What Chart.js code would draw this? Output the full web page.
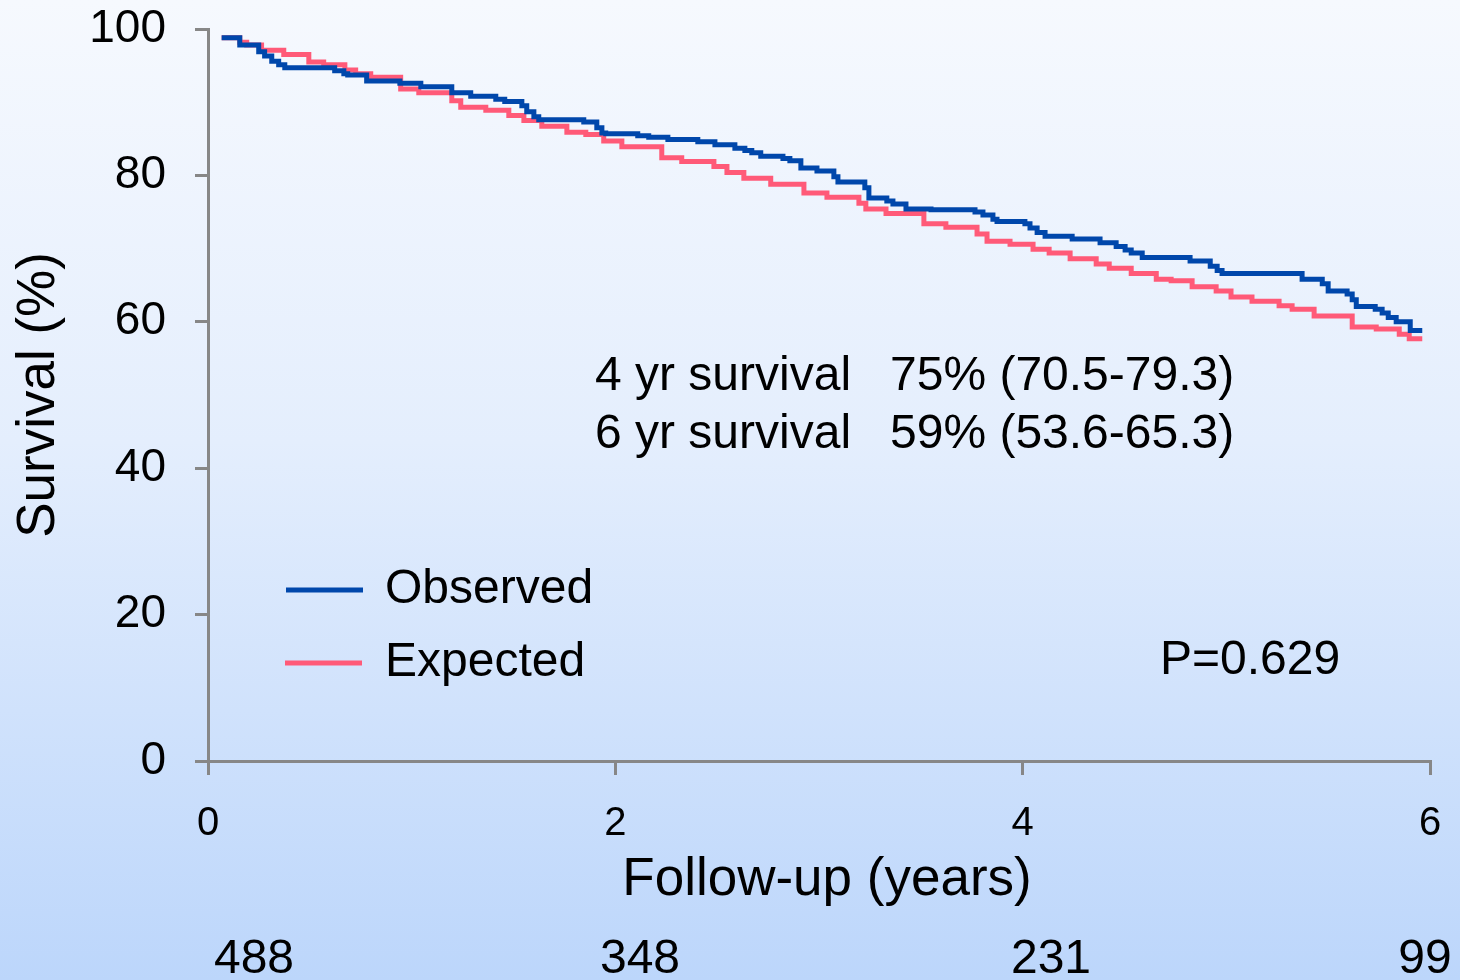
<!DOCTYPE html>
<html>
<head>
<meta charset="utf-8">
<script src="https://cdn.jsdelivr.net/npm/chart.js@4/dist/chart.umd.min.js"></script>
<style>
  html, body { margin: 0; padding: 0; background: #ffffff; }
  #wrap { width: 1460px; height: 980px; }
</style>
</head>
<body>
<div id="wrap"><canvas id="c" width="1460" height="980"></canvas></div>
<script>
// ---- data ----
const obsTimes = [0.067,0.156,0.249,0.278,0.313,0.347,0.377,0.622,0.667,0.686,0.779,0.942,1.045,1.197,1.290,1.413,1.457,1.541,1.565,1.600,1.624,1.845,1.909,1.934,1.953,2.110,2.164,2.258,2.405,2.489,2.587,2.636,2.670,2.714,2.823,2.857,2.911,2.990,3.073,3.093,3.225,3.245,3.333,3.363,3.427,3.550,3.766,3.805,3.854,3.874,4.011,4.036,4.071,4.110,4.243,4.380,4.459,4.503,4.533,4.587,4.822,4.921,4.955,4.979,5.372,5.471,5.500,5.593,5.618,5.638,5.731,5.765,5.795,5.834,5.903,5.962];
const obsSurv  = [98.8,97.8,96.9,96.3,95.6,95.1,94.7,94.3,93.9,93.7,92.9,92.6,92.1,91.3,90.8,90.4,90.1,89.5,88.7,88.0,87.6,87.3,86.5,85.8,85.7,85.4,85.2,84.9,84.6,84.2,83.7,83.4,83.1,82.6,82.3,82.0,81.0,80.6,79.8,79.1,78.3,76.9,76.5,76.1,75.4,75.3,75.0,74.6,74.0,73.7,73.4,72.8,72.2,71.7,71.3,70.8,70.3,69.8,69.4,68.8,68.3,67.6,67.0,66.6,65.8,65.2,64.2,63.8,63.0,62.1,61.7,61.2,60.6,60.0,58.8,58.8];

const expTimes = [0.067,0.156,0.190,0.263,0.372,0.495,0.568,0.672,0.725,0.799,0.946,1.035,1.197,1.241,1.364,1.477,1.551,1.639,1.762,1.855,1.943,2.032,2.228,2.326,2.484,2.548,2.631,2.763,2.926,3.039,3.196,3.230,3.329,3.515,3.623,3.776,3.825,3.938,4.051,4.130,4.233,4.361,4.425,4.533,4.656,4.729,4.832,4.950,5.023,5.126,5.259,5.323,5.431,5.618,5.736,5.849,5.898,5.962];
const expSurv  = [98.8,98.2,97.8,97.1,96.5,95.5,95.1,94.4,93.9,93.4,91.8,91.3,90.2,89.3,88.9,88.2,87.5,86.7,85.9,85.6,84.7,83.9,82.4,81.9,81.2,80.4,79.6,78.8,77.6,77.0,76.2,75.4,74.8,73.4,72.9,72.0,71.0,70.6,69.9,69.4,68.6,67.9,67.3,66.6,65.8,65.6,64.8,64.2,63.4,62.8,62.2,61.7,60.8,59.3,59.0,58.3,57.7,57.7];

const seriesNames = ['Observed', 'Expected'];
const xTickValues = [0, 2, 4, 6];
const yTickValues = [0, 20, 40, 60, 80, 100];
const atRisk = ['488', '348', '231', '99'];
const survivalLines = [
  ['4 yr survival', '75% (70.5-79.3)'],
  ['6 yr survival', '59% (53.6-65.3)']
];
const pValueText = 'P=0.629';
const xTitle = 'Follow-up (years)';
const yTitle = 'Survival (%)';

// ---- styles ----
const FONT = '"Liberation Sans", Arial, Helvetica, sans-serif';
const BLUE = '#0047ab';
const PINK = '#ff5a78';
const AXIS = '#878787';

function toPoints(ts, vs) { return ts.map((t, i) => ({ x: t, y: vs[i] })); }

const bgPlugin = {
  id: 'bg',
  beforeDraw(chart) {
    const ctx = chart.ctx;
    const g = ctx.createLinearGradient(0, 0, 0, chart.height);
    g.addColorStop(0, '#f6f9fe');
    g.addColorStop(0.45, '#e4eefd');
    g.addColorStop(1, '#bcd6fb');
    ctx.save();
    ctx.fillStyle = g;
    ctx.fillRect(0, 0, chart.width, chart.height);
    ctx.restore();
  }
};

const textPlugin = {
  id: 'texts',
  afterDraw(chart) {
    const ctx = chart.ctx;
    ctx.save();
    ctx.fillStyle = '#000';
    ctx.textBaseline = 'middle';
    ctx.textAlign = 'left';

    // survival annotation
    ctx.font = '48px ' + FONT;
    const annY = [377, 435];
    survivalLines.forEach((ln, i) => {
      ctx.fillText(ln[0], 595, annY[i]);
      ctx.fillText(ln[1], 890, annY[i]);
    });

    // legend
    const legY = [590, 663];
    const cols = [BLUE, PINK];
    seriesNames.forEach((nm, i) => {
      ctx.strokeStyle = cols[i];
      ctx.lineWidth = 5;
      ctx.beginPath();
      ctx.moveTo(286 - i, legY[i]);
      ctx.lineTo(363 - i, legY[i]);
      ctx.stroke();
      ctx.font = '48px ' + FONT;
      ctx.fillStyle = '#000';
      ctx.fillText(nm, 385, legY[i]);
    });

    // p value
    ctx.fillText(pValueText, 1160, 661);

    // x axis title
    ctx.textAlign = 'center';
    ctx.font = '53px ' + FONT;
    ctx.fillText(xTitle, 827, 880);

    // at-risk numbers
    ctx.font = '48px ' + FONT;
    const riskX = [254, 640, 1051, 1425];
    atRisk.forEach((n, i) => {
      ctx.fillText(n, riskX[i], 960);
    });
    ctx.restore();
  }
};

new Chart(document.getElementById('c'), {
  type: 'line',
  data: {
    datasets: [
      {
        label: seriesNames[0],
        data: toPoints(obsTimes, obsSurv),
        borderColor: BLUE,
        borderWidth: 5,
        stepped: true,
        pointRadius: 0,
        fill: false,
        borderJoinStyle: 'miter',
        borderCapStyle: 'butt'
      },
      {
        label: seriesNames[1],
        data: toPoints(expTimes, expSurv),
        borderColor: PINK,
        borderWidth: 5,
        stepped: true,
        pointRadius: 0,
        fill: false,
        borderJoinStyle: 'miter',
        borderCapStyle: 'butt'
      }
    ]
  },
  options: {
    responsive: false,
    animation: false,
    devicePixelRatio: 1,
    layout: { padding: { top: 29, right: 30, left: 0, bottom: 0 } },
    plugins: {
      legend: { display: false },
      tooltip: { enabled: false }
    },
    scales: {
      x: {
        type: 'linear',
        min: 0, max: 6,
        afterBuildTicks(scale) { scale.ticks = xTickValues.map(v => ({ value: v })); },
        afterFit(scale) {
          scale.height = 219;
          scale.paddingLeft = 0;
          scale.paddingRight = 0;
        },
        ticks: {
          font: { family: FONT, size: 40 },
          color: '#000',
          padding: 25,
          maxRotation: 0,
          callback: v => String(v)
        },
        grid: { drawOnChartArea: false, drawTicks: true, tickLength: 14, color: AXIS, lineWidth: 3 },
        border: { display: true, color: AXIS, width: 3 },
        title: { display: false, text: xTitle }
      },
      y: {
        type: 'linear',
        min: 0, max: 100,
        afterBuildTicks(scale) { scale.ticks = yTickValues.map(v => ({ value: v })); },
        afterFit(scale) {
          scale.width = 208;
          scale.paddingTop = 0;
          scale.paddingBottom = 0;
        },
        ticks: {
          font: { family: FONT, size: 46 },
          color: '#000',
          padding: 29,
          callback: v => String(v)
        },
        grid: { drawOnChartArea: false, drawTicks: true, tickLength: 13, color: AXIS, lineWidth: 3 },
        border: { display: true, color: AXIS, width: 3 },
        title: {
          display: true,
          text: yTitle,
          font: { family: FONT, size: 53 },
          color: '#000',
          padding: { top: 8, bottom: 0 }
        }
      }
    }
  },
  plugins: [bgPlugin, textPlugin]
});
</script>
</body>
</html>
